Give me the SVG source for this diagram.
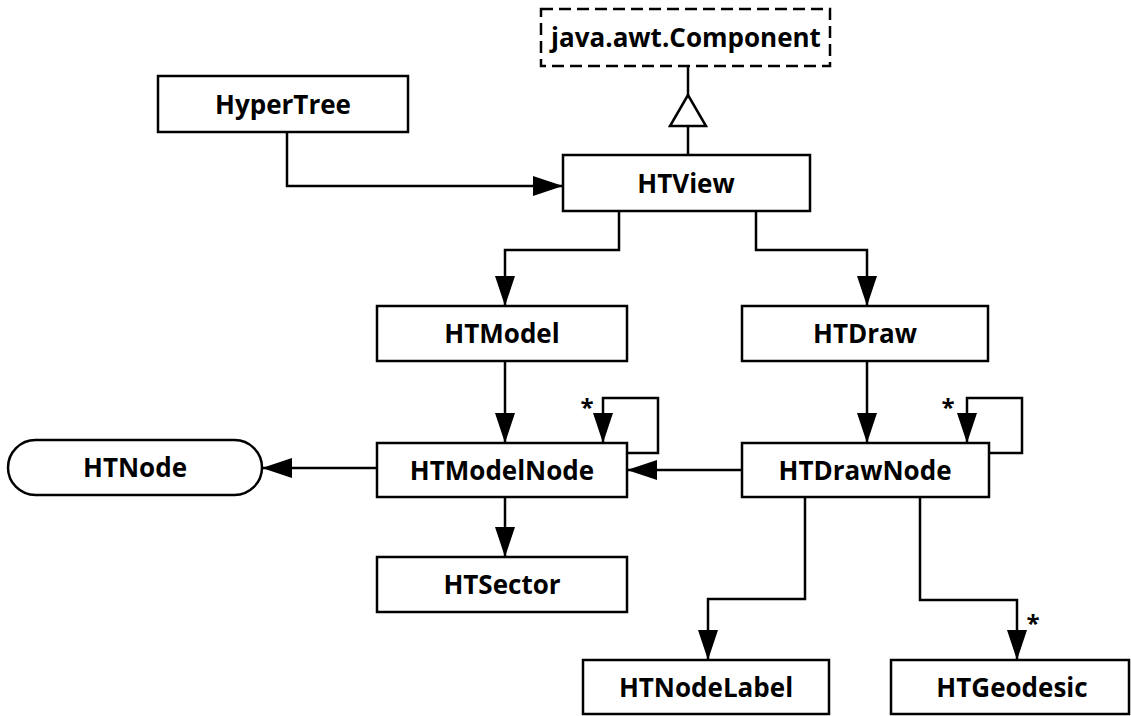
<svg xmlns="http://www.w3.org/2000/svg" width="1131" height="716" viewBox="0 0 1131 716">
<style>
.box{fill:#fff;stroke:#000;stroke-width:2.5}
.lbl{font-family:"Open Sans","DejaVu Sans",sans-serif;font-weight:bold;font-size:26px;text-anchor:middle;dominant-baseline:central;fill:#000}
.conn{fill:none;stroke:#000;stroke-width:2.5}
.star{font-family:"Open Sans","DejaVu Sans",sans-serif;font-weight:bold;font-size:24px;text-anchor:middle;fill:#000}
</style>
<defs>
<marker id="arr" markerUnits="userSpaceOnUse" markerWidth="32" markerHeight="22" refX="30" refY="10" orient="auto">
<path d="M0,0 L30,10 L0,20 z" fill="#000"/>
</marker>
</defs>
<rect width="1131" height="716" fill="#fff"/>

<g id="connectors">
<path class="conn" d="M688,155 V66"/>
<polygon points="688,95 670,126 706,126" fill="#fff" stroke="#000" stroke-width="2.5"/>
<path class="conn" d="M287,132 V186 H563" marker-end="url(#arr)"/>
<path class="conn" d="M619,211 V250 H505 V306" marker-end="url(#arr)"/>
<path class="conn" d="M756,211 V250 H867 V306" marker-end="url(#arr)"/>
<path class="conn" d="M505,361 V443" marker-end="url(#arr)"/>
<path class="conn" d="M867,361 V443" marker-end="url(#arr)"/>
<path class="conn" d="M627,453 H658 V398 H603 V443" marker-end="url(#arr)"/>
<path class="conn" d="M989,453 H1022 V398 H967 V443" marker-end="url(#arr)"/>
<path class="conn" d="M742,470 H627" marker-end="url(#arr)"/>
<path class="conn" d="M377,468 H262" marker-end="url(#arr)"/>
<path class="conn" d="M505,497 V557" marker-end="url(#arr)"/>
<path class="conn" d="M805,497 V599 H708 V660" marker-end="url(#arr)"/>
<path class="conn" d="M920,497 V600 H1017 V660" marker-end="url(#arr)"/>
<text class="star" x="587" y="416">*</text>
<text class="star" x="948" y="416">*</text>
<text class="star" x="1033" y="632">*</text>
</g>

<g id="java-awt-component">
<rect x="541" y="9" width="289" height="57" fill="#fff" stroke="#000" stroke-width="2.5" stroke-dasharray="12 6"/>
<text class="lbl" x="686" y="37">java.awt.Component</text>
</g>
<g id="hypertree">
<rect class="box" x="158" y="76" width="250" height="56"/>
<text class="lbl" x="283" y="104">HyperTree</text>
</g>
<g id="htview">
<rect class="box" x="563" y="155" width="247" height="56"/>
<text class="lbl" x="686" y="183">HTView</text>
</g>
<g id="htmodel">
<rect class="box" x="377" y="306" width="250" height="55"/>
<text class="lbl" x="502" y="333">HTModel</text>
</g>
<g id="htdraw">
<rect class="box" x="742" y="306" width="246" height="55"/>
<text class="lbl" x="865" y="333">HTDraw</text>
</g>
<g id="htnode">
<rect class="box" x="8" y="440" width="254" height="55" rx="27.5" ry="27.5"/>
<text class="lbl" x="135" y="467">HTNode</text>
</g>
<g id="htmodelnode">
<rect class="box" x="377" y="443" width="250" height="54"/>
<text class="lbl" x="502" y="470">HTModelNode</text>
</g>
<g id="htdrawnode">
<rect class="box" x="742" y="443" width="247" height="54"/>
<text class="lbl" x="865" y="470">HTDrawNode</text>
</g>
<g id="htsector">
<rect class="box" x="377" y="557" width="250" height="55"/>
<text class="lbl" x="502" y="584">HTSector</text>
</g>
<g id="htnodelabel">
<rect class="box" x="583" y="660" width="246" height="54"/>
<text class="lbl" x="706" y="687">HTNodeLabel</text>
</g>
<g id="htgeodesic">
<rect class="box" x="891" y="660" width="238" height="54"/>
<text class="lbl" x="1012" y="687">HTGeodesic</text>
</g>
</svg>
